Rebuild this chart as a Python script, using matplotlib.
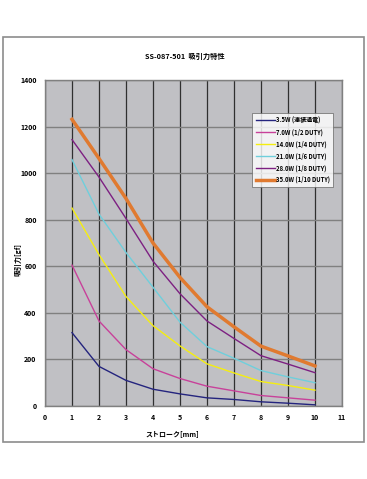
import matplotlib.pyplot as plt
from matplotlib.patches import Rectangle

plt.rcParams['font.family'] = ['Noto Sans CJK JP', 'DejaVu Sans']

# stroke [mm]
stroke = [1, 2, 3, 4, 5, 6, 7, 8, 9, 10]

# attraction force [gf] for each power setting
w3_5 = [315, 170, 110, 72, 52, 35, 28, 18, 12, 5]
w7_0 = [605, 365, 242, 160, 118, 85, 65, 45, 35, 25]
w14_0 = [850, 650, 470, 345, 258, 181, 142, 105, 88, 68]
w21_0 = [1058, 824, 659, 510, 360, 255, 205, 152, 125, 100]
w28_0 = [1144, 983, 805, 622, 482, 365, 290, 216, 180, 143]
w35_0 = [1231, 1063, 891, 700, 552, 426, 340, 257, 215, 172]

labels = ['3.5W (連続通電)', '7.0W (1/2 DUTY)', '14.0W (1/4 DUTY)',
          '21.0W (1/6 DUTY)', '28.0W (1/8 DUTY)', '35.0W (1/10 DUTY)']
colors = ['#24247e', '#c8419a', '#f5ee10', '#6fcfdc', '#7d2082', '#e07a30']
widths = [1.0, 1.0, 1.0, 1.0, 1.0, 2.5]
series = [w3_5, w7_0, w14_0, w21_0, w28_0, w35_0]

fig = plt.figure(figsize=(3.67, 4.79), dpi=100)

# outer chart frame
fig.patches.append(Rectangle((3 / 367, 1 - 442 / 479), 361 / 367, 405 / 479,
                             transform=fig.transFigure, fill=False,
                             edgecolor='#8c8c8c', linewidth=1.2))

ax = fig.add_axes([45 / 367, 1 - 406 / 479, 297 / 367, 326 / 479])
ax.set_facecolor('#c0c0c4')

for ys, lab, c, lw in zip(series, labels, colors, widths):
    ax.plot(stroke, ys, color=c, linewidth=lw, label=lab)

ax.set_xlim(0, 11)
ax.set_ylim(0, 1400)
ax.set_xticks(range(0, 12))
ax.set_yticks(range(0, 1401, 200))

ax.set_axisbelow(True)
ax.xaxis.grid(True, color='#303030', linewidth=0.9)
ax.yaxis.grid(True, color='#808080', linewidth=1.0)
for sp in ax.spines.values():
    sp.set_color('#808080')
    sp.set_linewidth(1.0)
ax.tick_params(length=0, labelsize=5, pad=6)
for t in ax.get_xticklabels() + ax.get_yticklabels():
    t.set_fontweight('bold')

ax.set_xlabel('ストローク[mm]', fontsize=5, fontweight='bold')
ax.xaxis.set_label_coords(0.43, -0.075)
ax.set_ylabel('吸引力[gf]', fontsize=5, fontweight='bold')
ax.yaxis.set_label_coords(-0.078, 0.45)

fig.text(184.5 / 367, 1 - 56 / 479, 'SS-087-501  吸引力特性', fontsize=5.2,
         fontweight='bold', ha='center', va='center')

leg = ax.legend(loc='upper left', bbox_to_anchor=(207 / 297, 1 - 33 / 326),
                fontsize=4.3, frameon=True, fancybox=False, handlelength=3.2,
                borderpad=0.6, labelspacing=0.75, handletextpad=0.2,
                borderaxespad=0)
leg.get_frame().set_edgecolor('#606060')
leg.get_frame().set_linewidth(0.6)
for t in leg.get_texts():
    t.set_fontweight('bold')

fig.savefig('out.png', dpi=100)
